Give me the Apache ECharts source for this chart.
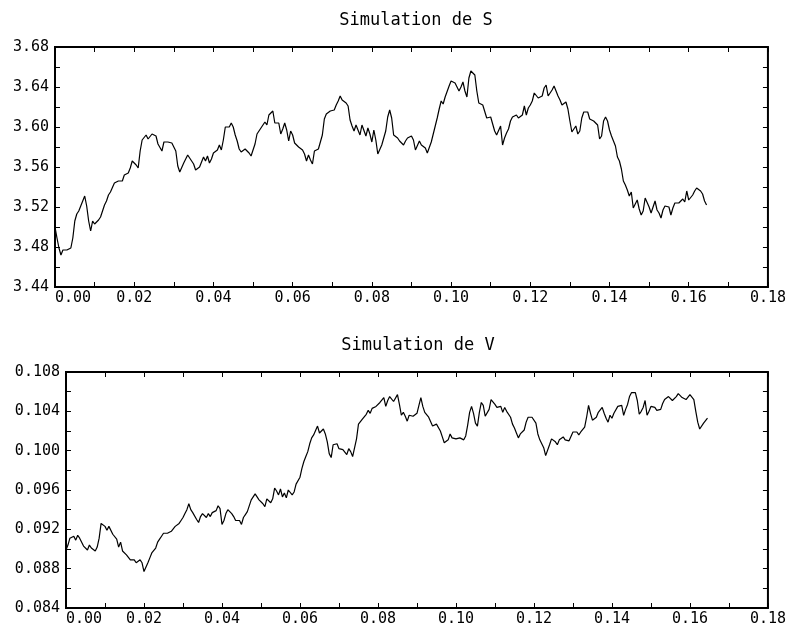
<!DOCTYPE html>
<html>
<head>
<meta charset="utf-8">
<script src="https://cdn.jsdelivr.net/npm/echarts@6/dist/echarts.min.js"></script>
<style>
  html, body { margin: 0; padding: 0; background: #fff; }
  #chart { width: 789px; height: 635px; }
</style>
</head>
<body>
<div id="chart"></div>
<script>
// Simulated paths of the price S and the variance V, sampled every dt
const dt = 0.0005;

const sValues = [
  3.500, 3.489, 3.479, 3.472, 3.477, 3.477, 3.477, 3.478, 3.479, 3.489,
  3.506, 3.513, 3.516, 3.521, 3.519, 3.531, 3.521, 3.506, 3.496, 3.506,
  3.503, 3.504, 3.507, 3.510, 3.516, 3.522, 3.526, 3.532, 3.535, 3.537,
  3.544, 3.542, 3.546, 3.548, 3.546, 3.552, 3.551, 3.554, 3.559, 3.566,
  3.566, 3.562, 3.559, 3.576, 3.587, 3.589, 3.592, 3.588, 3.589, 3.593,
  3.595, 3.591, 3.583, 3.585, 3.576, 3.585, 3.586, 3.585, 3.585, 3.584,
  3.582, 3.576, 3.561, 3.555, 3.556, 3.564, 3.566, 3.572, 3.574, 3.566,
  3.563, 3.557, 3.559, 3.560, 3.562, 3.570, 3.566, 3.571, 3.564, 3.568,
  3.574, 3.574, 3.577, 3.582, 3.577, 3.587, 3.600, 3.602, 3.600, 3.604,
  3.600, 3.592, 3.586, 3.578, 3.575, 3.575, 3.578, 3.576, 3.574, 3.571,
  3.573, 3.583, 3.593, 3.592, 3.599, 3.600, 3.605, 3.602, 3.612, 3.612,
  3.616, 3.604, 3.606, 3.604, 3.593, 3.598, 3.604, 3.597, 3.586, 3.596,
  3.592, 3.584, 3.582, 3.580, 3.581, 3.577, 3.573, 3.566, 3.572, 3.567,
  3.563, 3.576, 3.577, 3.578, 3.585, 3.592, 3.608, 3.613, 3.614, 3.616,
  3.614, 3.617, 3.622, 3.626, 3.631, 3.627, 3.629, 3.624, 3.621, 3.607,
  3.601, 3.596, 3.602, 3.601, 3.592, 3.602, 3.601, 3.591, 3.599, 3.593,
  3.585, 3.597, 3.587, 3.573, 3.571, 3.582, 3.589, 3.596, 3.610, 3.617,
  3.609, 3.592, 3.592, 3.589, 3.586, 3.587, 3.582, 3.586, 3.589, 3.591,
  3.591, 3.587, 3.577, 3.578, 3.586, 3.582, 3.584, 3.579, 3.574, 3.576,
  3.585, 3.593, 3.601, 3.609, 3.618, 3.626, 3.623, 3.630, 3.631, 3.641,
  3.646, 3.648, 3.644, 3.642, 3.636, 3.640, 3.645, 3.636, 3.630, 3.649,
  3.656, 3.656, 3.652, 3.636, 3.624, 3.625, 3.622, 3.624, 3.609, 3.610,
  3.610, 3.608, 3.596, 3.592, 3.594, 3.601, 3.582, 3.589, 3.594, 3.598,
  3.606, 3.610, 3.612, 3.612, 3.609, 3.609, 3.612, 3.621, 3.612, 3.619,
  3.622, 3.626, 3.634, 3.635, 3.629, 3.628, 3.631, 3.639, 3.642, 3.631,
  3.630, 3.637, 3.641, 3.636, 3.631, 3.627, 3.622, 3.624, 3.625, 3.618,
  3.606, 3.595, 3.596, 3.601, 3.593, 3.596, 3.609, 3.615, 3.616, 3.615,
  3.608, 3.606, 3.606, 3.605, 3.602, 3.588, 3.591, 3.606, 3.610, 3.606,
  3.597, 3.591, 3.586, 3.581, 3.570, 3.566, 3.558, 3.546, 3.542, 3.537,
  3.531, 3.535, 3.519, 3.518, 3.527, 3.518, 3.512, 3.516, 3.529, 3.529,
  3.520, 3.514, 3.520, 3.526, 3.517, 3.514, 3.509, 3.517, 3.521, 3.519,
  3.520, 3.512, 3.519, 3.524, 3.526, 3.524, 3.523, 3.528, 3.525, 3.536,
  3.527, 3.526, 3.532, 3.536, 3.539, 3.537, 3.536, 3.533, 3.526, 3.522
];

const vValues = [
  0.0899, 0.0904, 0.0911, 0.0910, 0.0913, 0.0909, 0.0914, 0.0911, 0.0912, 0.0903,
  0.0901, 0.0899, 0.0904, 0.0901, 0.0902, 0.0898, 0.0902, 0.0911, 0.0926, 0.0927,
  0.0923, 0.0919, 0.0923, 0.0922, 0.0915, 0.0913, 0.0910, 0.0902, 0.0907, 0.0898,
  0.0896, 0.0894, 0.0892, 0.0889, 0.0887, 0.0889, 0.0886, 0.0887, 0.0889, 0.0886,
  0.0877, 0.0876, 0.0886, 0.0891, 0.0896, 0.0898, 0.0901, 0.0907, 0.0910, 0.0913,
  0.0916, 0.0914, 0.0916, 0.0916, 0.0918, 0.0919, 0.0923, 0.0921, 0.0926, 0.0929,
  0.0932, 0.0936, 0.0940, 0.0946, 0.0940, 0.0937, 0.0935, 0.0930, 0.0927, 0.0933,
  0.0936, 0.0935, 0.0932, 0.0936, 0.0933, 0.0937, 0.0936, 0.0939, 0.0944, 0.0941,
  0.0925, 0.0929, 0.0936, 0.0940, 0.0940, 0.0936, 0.0933, 0.0929, 0.0931, 0.0929,
  0.0925, 0.0932, 0.0935, 0.0938, 0.0938, 0.0950, 0.0953, 0.0956, 0.0956, 0.0950,
  0.0950, 0.0946, 0.0943, 0.0951, 0.0951, 0.0947, 0.0951, 0.0962, 0.0959, 0.0955,
  0.0961, 0.0953, 0.0957, 0.0952, 0.0960, 0.0960, 0.0955, 0.0958, 0.0966, 0.0968,
  0.0973, 0.0982, 0.0989, 0.0994, 0.0999, 0.1007, 0.1013, 0.1016, 0.1018, 0.1025,
  0.1018, 0.1019, 0.1022, 0.1017, 0.1009, 0.0997, 0.0993, 0.1006, 0.1005, 0.1007,
  0.1002, 0.1003, 0.1001, 0.1001, 0.0996, 0.1002, 0.0999, 0.0994, 0.0996, 0.1012,
  0.1027, 0.1029, 0.1032, 0.1034, 0.1037, 0.1041, 0.1038, 0.1043, 0.1042, 0.1045,
  0.1047, 0.1049, 0.1051, 0.1054, 0.1045, 0.1051, 0.1055, 0.1054, 0.1050, 0.1049,
  0.1057, 0.1047, 0.1036, 0.1039, 0.1035, 0.1030, 0.1036, 0.1035, 0.1035, 0.1036,
  0.1038, 0.1046, 0.1054, 0.1045, 0.1039, 0.1040, 0.1034, 0.1036, 0.1025, 0.1025,
  0.1027, 0.1028, 0.1020, 0.1014, 0.1008, 0.1009, 0.1011, 0.1017, 0.1013, 0.1012,
  0.1012, 0.1012, 0.1013, 0.1015, 0.1011, 0.1015, 0.1026, 0.1039, 0.1045, 0.1038,
  0.1028, 0.1025, 0.1039, 0.1049, 0.1046, 0.1035, 0.1034, 0.1042, 0.1052, 0.1053,
  0.1047, 0.1044, 0.1046, 0.1045, 0.1039, 0.1044, 0.1040, 0.1038, 0.1034, 0.1027,
  0.1023, 0.1018, 0.1013, 0.1017, 0.1016, 0.1021, 0.1029, 0.1034, 0.1036, 0.1034,
  0.1034, 0.1028, 0.1017, 0.1011, 0.1009, 0.1003, 0.0995, 0.0997, 0.1006, 0.1012,
  0.1011, 0.1009, 0.1006, 0.1011, 0.1011, 0.1014, 0.1011, 0.1012, 0.1010, 0.1008,
  0.1019, 0.1020, 0.1019, 0.1016, 0.1019, 0.1018, 0.1024, 0.1034, 0.1046, 0.1038,
  0.1031, 0.1030, 0.1034, 0.1039, 0.1041, 0.1044, 0.1038, 0.1033, 0.1029, 0.1036,
  0.1033, 0.1038, 0.1038, 0.1045, 0.1044, 0.1046, 0.1036, 0.1042, 0.1047, 0.1055,
  0.1059, 0.1057, 0.1059, 0.1051, 0.1037, 0.1040, 0.1044, 0.1051, 0.1036, 0.1040,
  0.1045, 0.1044, 0.1044, 0.1041, 0.1043, 0.1042, 0.1048, 0.1052, 0.1053, 0.1055,
  0.1056, 0.1051, 0.1051, 0.1055, 0.1058, 0.1056, 0.1054, 0.1054, 0.1052, 0.1050,
  0.1057, 0.1058, 0.1052, 0.1040, 0.1029, 0.1022, 0.1024, 0.1028, 0.1030, 0.1033
];

const titles = ['Simulation de S', 'Simulation de V'];
const xRange = { min: 0, max: 0.18, interval: 0.02 };
const sRange = { min: 3.44, max: 3.68, interval: 0.04 };
const vRange = { min: 0.084, max: 0.108, interval: 0.004 };

const FONT = '"DejaVu Sans Mono", monospace';
const INK = '#000';

function pairs(values) {
  return values.map((v, i) => [+(i * dt).toFixed(4), v]);
}

// Shared tick styling: ticks point into the frame on every side
const tickStyle = {
  axisLine: { show: false, onZero: false },
  splitLine: { show: false },
  axisTick: { show: true, inside: true, length: 5, lineStyle: { color: INK, width: 1 } },
  minorTick: { show: true, splitNumber: 2, length: 5, lineStyle: { color: INK, width: 1 } },
  minorSplitLine: { show: false }
};

function xAxisPair(gridIndex) {
  const base = Object.assign({
    gridIndex, type: 'value',
    min: xRange.min, max: xRange.max, interval: xRange.interval
  }, tickStyle);
  return [
    Object.assign({}, base, {
      position: 'bottom',
      axisLabel: {
        show: true, margin: 4, color: INK, fontFamily: FONT, fontSize: 15,
        alignMinLabel: 'left',
        formatter: v => v.toFixed(2)
      }
    }),
    Object.assign({}, base, { position: 'top', axisLabel: { show: false } })
  ];
}

function yAxisPair(gridIndex, range, digits) {
  const base = Object.assign({
    gridIndex, type: 'value',
    min: range.min, max: range.max, interval: range.interval
  }, tickStyle);
  return [
    Object.assign({}, base, {
      position: 'left',
      axisLabel: {
        show: true, margin: 6, color: INK, fontFamily: FONT, fontSize: 15,
        formatter: v => v.toFixed(digits)
      }
    }),
    Object.assign({}, base, { position: 'right', axisLabel: { show: false } })
  ];
}

const titleStyle = { fontFamily: FONT, fontWeight: 'normal', fontSize: 17, color: INK };

const chart = echarts.init(document.getElementById('chart'), null, { renderer: 'canvas' });

chart.setOption({
  animation: false,
  backgroundColor: '#fff',
  title: [
    { text: titles[0], left: 411, top: 7, textAlign: 'center', textStyle: titleStyle },
    { text: titles[1], left: 413, top: 332, textAlign: 'center', textStyle: titleStyle }
  ],
  grid: [
    { left: 55, top: 47, right: 21, height: 240, show: true, borderColor: INK, borderWidth: 2, backgroundColor: 'transparent' },
    { left: 66, top: 372, right: 21, height: 236, show: true, borderColor: INK, borderWidth: 2, backgroundColor: 'transparent' }
  ],
  xAxis: [...xAxisPair(0), ...xAxisPair(1)],
  yAxis: [...yAxisPair(0, sRange, 2), ...yAxisPair(1, vRange, 3)],
  series: [
    {
      type: 'line', xAxisIndex: 0, yAxisIndex: 0, data: pairs(sValues),
      symbol: 'none', lineStyle: { color: INK, width: 1.2 }, silent: true
    },
    {
      type: 'line', xAxisIndex: 2, yAxisIndex: 2, data: pairs(vValues),
      symbol: 'none', lineStyle: { color: INK, width: 1.2 }, silent: true
    }
  ]
});
</script>
</body>
</html>
